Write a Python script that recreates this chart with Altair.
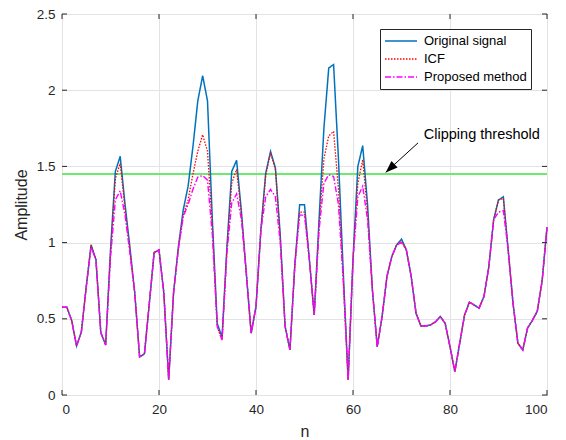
import altair as alt
import pandas as pd

# ---------------- data ----------------
n = list(range(0, 101))
original = [
    0.576, 0.576, 0.488, 0.322, 0.416, 0.71, 0.985, 0.887, 0.41, 0.328,
    0.95, 1.467, 1.566, 1.25, 0.97, 0.67, 0.25, 0.27, 0.6, 0.935,
    0.952, 0.668, 0.10, 0.67, 0.974, 1.215, 1.37, 1.63, 1.93, 2.095,
    1.93, 1.15, 0.47, 0.38, 0.97, 1.467, 1.54, 1.2, 0.8, 0.405,
    0.58, 1.08, 1.456, 1.598, 1.49, 1.05, 0.45, 0.296, 0.85, 1.248,
    1.248, 0.89, 0.525, 1.15, 1.75, 2.146, 2.168, 1.55, 0.8, 0.1,
    0.89, 1.5, 1.636, 1.25, 0.69, 0.317, 0.515, 0.777, 0.909, 0.985,
    1.023, 0.952, 0.777, 0.536, 0.453, 0.453, 0.46, 0.48, 0.515, 0.47,
    0.317, 0.153, 0.34, 0.525, 0.609, 0.59, 0.57, 0.646, 0.84, 1.15,
    1.28, 1.30, 0.95, 0.6, 0.34, 0.296, 0.44, 0.49, 0.55, 0.75, 1.1,
]
icf = [
    0.576, 0.576, 0.488, 0.322, 0.416, 0.71, 0.985, 0.887, 0.41, 0.328,
    0.93, 1.42, 1.52, 1.22, 0.95, 0.67, 0.25, 0.27, 0.6, 0.935,
    0.952, 0.668, 0.10, 0.67, 0.96, 1.18, 1.28, 1.45, 1.6, 1.708,
    1.6, 1.1, 0.45, 0.36, 0.95, 1.39, 1.48, 1.18, 0.8, 0.405,
    0.58, 1.08, 1.44, 1.59, 1.48, 1.03, 0.45, 0.296, 0.85, 1.2,
    1.2, 0.89, 0.525, 1.1, 1.55, 1.70, 1.73, 1.35, 0.75, 0.1,
    0.89, 1.39, 1.544, 1.2, 0.69, 0.317, 0.515, 0.777, 0.909, 0.985,
    1.01, 0.952, 0.777, 0.536, 0.453, 0.453, 0.46, 0.48, 0.515, 0.47,
    0.317, 0.153, 0.34, 0.525, 0.609, 0.59, 0.57, 0.646, 0.84, 1.15,
    1.28, 1.29, 0.95, 0.6, 0.34, 0.296, 0.44, 0.49, 0.55, 0.75, 1.1,
]
proposed = [
    0.576, 0.576, 0.488, 0.322, 0.416, 0.71, 0.97, 0.887, 0.41, 0.328,
    0.9, 1.28, 1.34, 1.18, 0.93, 0.67, 0.25, 0.27, 0.6, 0.935,
    0.952, 0.668, 0.10, 0.67, 0.96, 1.17, 1.25, 1.35, 1.43, 1.44,
    1.41, 1.05, 0.45, 0.36, 0.93, 1.26, 1.32, 1.15, 0.8, 0.405,
    0.58, 1.08, 1.3, 1.35, 1.3, 1.0, 0.45, 0.296, 0.85, 1.18,
    1.18, 0.89, 0.525, 1.08, 1.39, 1.445, 1.434, 1.25, 0.75, 0.1,
    0.89, 1.30, 1.37, 1.15, 0.69, 0.317, 0.515, 0.777, 0.909, 0.985,
    1.0, 0.952, 0.777, 0.536, 0.453, 0.453, 0.46, 0.48, 0.515, 0.47,
    0.317, 0.153, 0.34, 0.525, 0.609, 0.59, 0.57, 0.646, 0.84, 1.15,
    1.2, 1.21, 0.95, 0.6, 0.34, 0.296, 0.44, 0.49, 0.55, 0.75, 1.1,
]
series_names = ["Original signal", "ICF", "Proposed method"]
series_colors = ["#0072BD", "#FF0000", "#FF00FF"]
series_dash = [[1, 0], [1.5, 1.5], [6, 2, 1.5, 2]]
series_width = [1.5, 1.3, 1.4]

x_ticks = [0, 20, 40, 60, 80, 100]
y_ticks = [0, 0.5, 1, 1.5, 2, 2.5]
threshold = [1.45]
arrow_tail = [73.4, 1.654]
arrow_tip = [66.74, 1.4606]
label_pos = [74.6, 1.708]
label_text = ["Clipping threshold"]

W, H = 485, 381
FONT = "Liberation Sans"
AX = "#262626"

df = pd.DataFrame({
    "n": n * 3,
    "value": original + icf + proposed,
    "series": [s for s in series_names for _ in n],
})

xs = alt.Scale(domain=[0, 100], nice=False, zero=False)
ys = alt.Scale(domain=[0, 2.5], nice=False)

x_axis = alt.Axis(values=x_ticks, title="n", grid=True, tickSize=0, domain=False,
                  labelPadding=7, titlePadding=8)
y_axis = alt.Axis(values=y_ticks, title="Amplitude", grid=True, tickSize=0, domain=False,
                  labelPadding=7, titlePadding=7, format="~g")


def X(field):
    return alt.X(field, scale=xs, axis=x_axis)


def Y(field):
    return alt.Y(field, scale=ys, axis=y_axis)


leg = alt.Legend(title=None, orient="none", legendX=318, legendY=15)
color = alt.Color("series:N", scale=alt.Scale(domain=series_names, range=series_colors), legend=leg)
dash = alt.StrokeDash("series:N", scale=alt.Scale(domain=series_names, range=series_dash), legend=leg)

line_layers = []
for s, w in zip(series_names, series_width):
    line_layers.append(
        alt.Chart(df).transform_filter(alt.datum.series == s)
        .mark_line(strokeWidth=w)
        .encode(x=X("n:Q"), y=Y("value:Q"), color=color, strokeDash=dash)
    )

xt = pd.DataFrame({"n": x_ticks})
yt = pd.DataFrame({"value": y_ticks})
tick_bottom = alt.Chart(xt).mark_rule(color=AX).encode(
    x=X("n:Q"), y=alt.value(H), y2=alt.value(H - 5))
tick_top = alt.Chart(xt).mark_rule(color=AX).encode(
    x=X("n:Q"), y=alt.value(0), y2=alt.value(5))
tick_left = alt.Chart(yt).mark_rule(color=AX).encode(
    y=Y("value:Q"), x=alt.value(0), x2=alt.value(5))
tick_right = alt.Chart(yt).mark_rule(color=AX).encode(
    y=Y("value:Q"), x=alt.value(W), x2=alt.value(W - 5))

thr = alt.Chart(pd.DataFrame({"value": threshold})).mark_rule(
    color="#6ee86e", strokeWidth=1.8).encode(y=Y("value:Q"))

arrow_df = pd.DataFrame({"n": [arrow_tail[0]], "value": [arrow_tail[1]],
                         "n2": [arrow_tip[0]], "value2": [arrow_tip[1]]})
arrow_line = alt.Chart(arrow_df).mark_rule(color="black", strokeWidth=1).encode(
    x=X("n:Q"), y=Y("value:Q"), x2="n2:Q", y2="value2:Q")
head_df = pd.DataFrame({"n": [arrow_tip[0]], "value": [arrow_tip[1]]})
arrow_head = alt.Chart(head_df).mark_point(
    shape="M0,0 L-2,-0.75 L-2,0.75 Z", angle=137.4, size=144,
    filled=True, color="black", opacity=1).encode(x=X("n:Q"), y=Y("value:Q"))

label_df = pd.DataFrame({"n": [label_pos[0]], "value": [label_pos[1]], "text": label_text})
label = alt.Chart(label_df).mark_text(
    align="left", baseline="middle", fontSize=14.5, font=FONT, color="black").encode(
    x=X("n:Q"), y=Y("value:Q"), text="text:N")

chart = alt.layer(
    thr, *line_layers, tick_bottom, tick_top, tick_left, tick_right,
    arrow_line, arrow_head, label
).properties(
    width=W, height=H,
    autosize=alt.AutoSizeParams(type="none"),
    padding={"left": 62, "top": 14, "right": 19, "bottom": 45},
    background="white",
).configure_view(
    stroke=AX, strokeWidth=1
).configure_axis(
    labelFont=FONT, labelFontSize=13.5, labelColor=AX,
    titleFont=FONT, titleFontSize=16, titleFontWeight="normal", titleColor=AX,
    gridColor="#e3e3e3", gridWidth=1,
).configure_legend(
    symbolType="stroke", symbolSize=1024, symbolStrokeWidth=1.5,
    labelFont=FONT, labelFontSize=13, labelColor="black",
    strokeColor=AX, fillColor="white", padding=4, clipHeight=16,
    rowPadding=2, labelOffset=6, labelLimit=300, cornerRadius=0,
)

chart.save("out.html", embed_options={"renderer": "svg", "actions": False})
